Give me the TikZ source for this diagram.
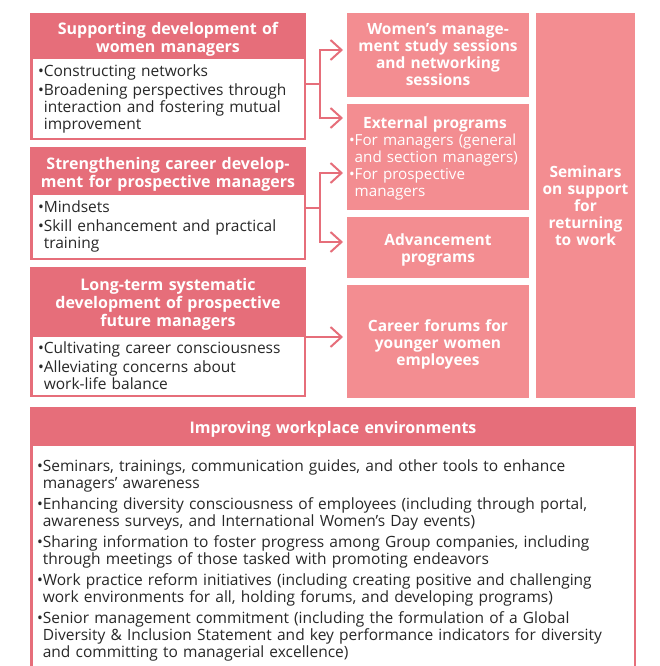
\documentclass[tikz,border=0pt]{standalone}
\usepackage{fontspec}
\setmainfont{Open Sans}
\usetikzlibrary{arrows.meta,positioning}
\definecolor{headpink}{RGB}{230,110,122}
\definecolor{boxpink}{RGB}{243,141,145}
\definecolor{textgray}{RGB}{40,40,40}
\newcommand{\ind}{\hphantom{\textbullet}}
\newcommand{\hup}[1]{\rule{0pt}{#1}}

\begin{document}
\begin{tikzpicture}[x=1pt,y=-1pt,
  headbox/.style={fill=headpink,text=white,font=\fontsize{16}{18}\selectfont\bfseries,
    align=center,minimum width=276pt,text width=270pt,inner sep=0pt,outer sep=0pt,anchor=north},
  listbox/.style={fill=white,draw=headpink,line width=2.5pt,text=textgray,
    font=\fontsize{15.5}{17}\selectfont,align=left,minimum width=273.5pt,
    text width=260pt,inner sep=0pt,anchor=north},
  pinkbox/.style={fill=boxpink,text=white,font=\fontsize{15.5}{17}\selectfont\bfseries,
    align=center,minimum width=182pt,text width=176pt,inner sep=0pt,outer sep=0pt,
    anchor=north west},
  link/.style={draw=headpink,line width=2pt},
  arr/.style={link,-{Straight Barb[length=11pt,width=20pt]},shorten >=4pt}]
\clip (0,0) rectangle (659,666);

% left column
\node[headbox,minimum height=44pt] (sup) at (168,13) {\hup{20pt}Supporting development of\\women managers};
\node[listbox,minimum height=80.5pt] (supL) at (sup.south)
  {\textbullet Constructing networks\\[2pt]\textbullet Broadening perspectives through\\
   \ind interaction and fostering mutual\\\ind improvement};
\node[headbox,minimum height=45pt] (str) at (168,147) {\hup{21pt}Strengthening career develop-\\ment for prospective managers};
\node[listbox,minimum height=65.5pt] (strL) at (str.south)
  {\textbullet Mindsets\\[2pt]\textbullet Skill enhancement and practical\\\ind training};
\node[headbox,minimum height=67pt] (ltd) at (168,267) {\hup{20pt}Long-term systematic\\development of prospective\\future managers};
\node[listbox,minimum height=60.5pt] (ltdL) at (ltd.south)
  {\textbullet Cultivating career consciousness\\[2pt]\textbullet Alleviating concerns about\\
   \ind work-life balance};

% programs
\node[pinkbox,minimum height=84pt] (wms) at (347,13) {Women’s manage-\\ment study sessions\\and networking\\sessions};
\node[pinkbox,minimum height=106pt,text width=178pt,align=left,font=\fontsize{15.2}{17}\selectfont] (ext) at (347,104)
  {\makebox[172pt]{\fontsize{15.5}{17}\selectfont\bfseries\hup{15pt}External programs}\\\textbullet For managers (general\\
   \ind and section managers)\\\textbullet For prospective\\\ind managers};
\node[pinkbox,minimum height=61pt] (adv) at (347,217) {\hup{17pt}Advancement\\programs};
\node[pinkbox,minimum height=113pt] (car) at (347,285) {\hup{18pt}Career forums for\\younger women\\employees};
\node[pinkbox,minimum width=99pt,text width=97pt,minimum height=385pt] (ret) at (536,13)
  {Seminars\\on support\\for\\returning\\to work};

% connectors
\coordinate (f1) at (320,84);
\coordinate (f2) at (320,208);
\draw[link] (supL.east |- f1) -- (f1);
\draw[arr] (f1) |- ([yshift=5pt]wms.west);
\draw[arr] (f1) |- ([yshift=39pt]ext.west);
\draw[link] (strL.east |- f2) -- (f2);
\draw[arr] (f2) |- ([yshift=-16pt]ext.west);
\draw[arr] (f2) |- ([yshift=5.5pt]adv.west);
\coordinate (f3) at ([yshift=4.5pt]car.west);
\draw[arr] (ltdL.east |- f3) -- (f3);

% workplace environments
\node[headbox,minimum width=606pt,text width=600pt,minimum height=36pt] (imp) at (333,407) {\hup{20pt}Improving workplace environments};
\node[listbox,minimum width=603.5pt,text width=592pt,minimum height=232.5pt] (impL) at (imp.south)
  {\textbullet Seminars, trainings, communication guides, and other tools to enhance\\
   \ind managers’ awareness\\[4pt]
   \textbullet Enhancing diversity consciousness of employees (including through portal,\\
   \ind awareness surveys, and International Women’s Day events)\\[4pt]
   \textbullet Sharing information to foster progress among Group companies, including\\
   \ind through meetings of those tasked with promoting endeavors\\[4pt]
   \textbullet Work practice reform initiatives (including creating positive and challenging\\
   \ind work environments for all, holding forums, and developing programs)\\[4pt]
   \textbullet Senior management commitment (including the formulation of a Global\\
   \ind Diversity \& Inclusion Statement and key performance indicators for diversity\\
   \ind and committing to managerial excellence)};
\end{tikzpicture}
\end{document}
